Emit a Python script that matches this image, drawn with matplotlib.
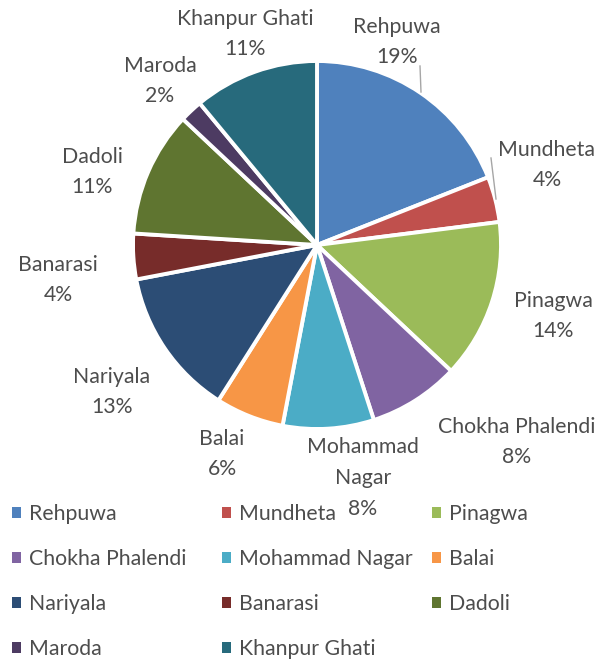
import matplotlib.pyplot as plt
from matplotlib.patches import Patch

plt.rcParams['font.family'] = ['Lato', 'DejaVu Sans']

villages = ['Rehpuwa', 'Mundheta', 'Pinagwa', 'Chokha Phalendi', 'Mohammad Nagar',
            'Balai', 'Nariyala', 'Banarasi', 'Dadoli', 'Maroda', 'Khanpur Ghati']
shares = [19, 4, 14, 8, 8, 6, 13, 4, 11, 2, 11]
colors = ['#4F81BD', '#C0504D', '#9BBB59', '#8064A2', '#4BACC6', '#F79646',
          '#2C4D75', '#772C2A', '#5F7530', '#4D3B62', '#276A7C']
# label text as shown (Mohammad Nagar wraps)
label_text = ['Rehpuwa', 'Mundheta', 'Pinagwa', 'Chokha Phalendi', 'Mohammad\nNagar',
              'Balai', 'Nariyala', 'Banarasi', 'Dadoli', 'Maroda', 'Khanpur Ghati']

W, H = 600, 660
cx, cy, R = 317, 245, 184
txt_color = '#4D4D4D'
fs = 15.3

fig = plt.figure(figsize=(W / 100, H / 100), dpi=100)
ax = fig.add_axes([0, 0, 1, 1])

wedges, _ = ax.pie(shares, colors=colors, startangle=90, counterclock=False,
                   radius=1, wedgeprops=dict(edgecolor='white', linewidth=2.8))

# pie() resets the limits, so set them afterwards
ax.set_xlim(-cx / R, (W - cx) / R)
ax.set_ylim(-(H - cy) / R, cy / R)
ax.set_aspect('equal')
ax.axis('off')


def px(x, y):
    return (x - cx) / R, (cy - y) / R


# label centres in pixel coords of the original picture
label_pos = [(397, 42), (547, 165), (553, 316), (517, 442), (363, 478),
             (222, 454), (112, 392), (58, 280), (92, 172), (160, 81), (245, 34)]
for name, val, (x, y) in zip(label_text, shares, label_pos):
    ax.text(*px(x, y), f'{name}\n{val}%', ha='center', va='center',
            fontsize=fs, color=txt_color, linespacing=1.68)

# leader lines
ax.plot(*zip(px(420, 66), px(421, 92)), color='#A6A6A6', lw=1)
ax.plot(*zip(px(491, 158), px(496, 199)), color='#A6A6A6', lw=1)

# legend: three fixed-width columns, filled row by row
col_x = [12, 222, 432]
for c, x0 in enumerate(col_x):
    idx = list(range(c, len(villages), 3))
    handles = [Patch(facecolor=colors[i], label=villages[i]) for i in idx]
    fig.legend(handles=handles, loc='upper left',
               bbox_to_anchor=(x0 / W, 1 - 504 / H), bbox_transform=fig.transFigure,
               frameon=False, fontsize=fs, labelcolor=txt_color,
               handlelength=0.42, handleheight=0.42, handletextpad=0.38,
               labelspacing=1.18, borderpad=0, borderaxespad=0)

fig.savefig('out.png', dpi=100)
